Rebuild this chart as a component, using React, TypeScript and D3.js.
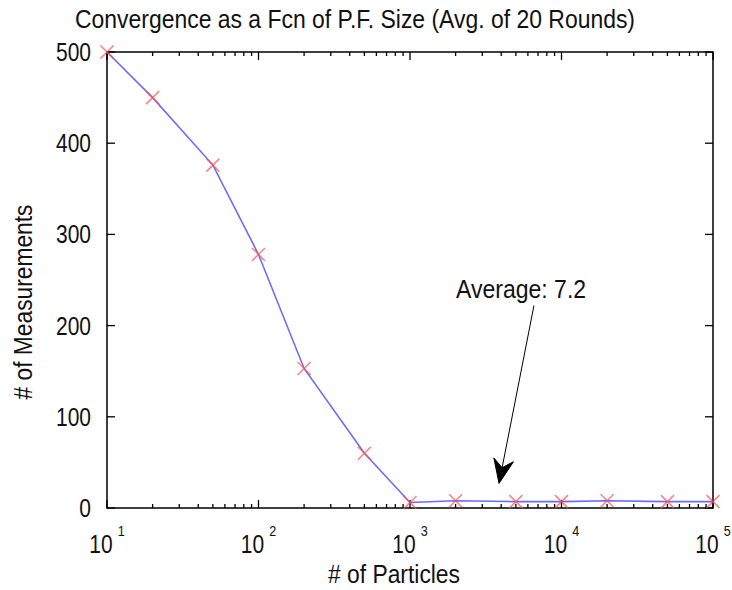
import React from "react";
import * as d3 from "d3";

const particles = [10, 20, 50, 100, 200, 500, 1000, 2000, 5000, 10000, 20000, 50000, 100000];
const measurements = [500, 450, 376, 278, 153, 60, 6, 8, 7, 7, 8, 7, 7];
const yTicks = [0, 100, 200, 300, 400, 500];
const xDecades = [1, 2, 3, 4, 5];
const titleText = "Convergence as a Fcn of P.F. Size (Avg. of 20 Rounds)";
const xLabelText = "# of Particles";
const yLabelText = "# of Measurements";
const annotText = "Average: 7.2";
// annotation in data coordinates: [x, y]
const annotLabelPos = [2015, 230];
const arrowFrom = [6580, 222];
const arrowTo = [3870, 27];

const W = 732;
const H = 590;
const M = { left: 107, right: 713, top: 52, bottom: 508 };
const FONT = "'Liberation Sans', Arial, Helvetica, sans-serif";
const SX = 0.84;

export default function App() {
  const x = d3.scaleLog().domain([10, 100000]).range([M.left, M.right]);
  const y = d3.scaleLinear().domain([0, 500]).range([M.bottom, M.top]);

  const line = d3
    .line<number>()
    .x((_, i) => x(particles[i]))
    .y((d) => y(d));

  const minorTicks: number[] = [];
  for (let e = 1; e < 5; e++) {
    for (let k = 2; k <= 9; k++) minorTicks.push(k * Math.pow(10, e));
  }

  // arrow geometry
  const sx = x(arrowFrom[0]);
  const sy = y(arrowFrom[1]);
  const tx = x(arrowTo[0]);
  const ty = y(arrowTo[1]);
  const dxA = tx - sx;
  const dyA = ty - sy;
  const len = Math.hypot(dxA, dyA);
  const ux = dxA / len;
  const uy = dyA / len;
  const nx = -uy;
  const ny = ux;
  const headLen = 24;
  const headW = 10;
  const bx = tx - headLen * ux;
  const by = ty - headLen * uy;
  const notchX = tx - 16 * ux;
  const notchY = ty - 16 * uy;
  const headPath = `M${tx},${ty} L${bx + headW * nx},${by + headW * ny} L${notchX},${notchY} L${bx - headW * nx},${by - headW * ny} Z`;

  const ms = 6.5;

  return (
    <svg
      width={W}
      height={H}
      style={{ position: "absolute", left: 0, top: 0, background: "#fff" }}
      fontFamily={FONT}
    >
      <rect x={0} y={0} width={W} height={H} fill="#fff" />
      {/* title */}
      <text
        x={355}
        y={28}
        textAnchor="middle"
        fontSize={26}
        fill="#111"
        textLength={560}
        lengthAdjust="spacingAndGlyphs"
      >
        {titleText}
      </text>

      {/* frame */}
      <rect
        x={M.left}
        y={M.top}
        width={M.right - M.left}
        height={M.bottom - M.top}
        fill="none"
        stroke="#000"
        strokeWidth={1.5}
      />

      {/* y ticks */}
      {yTicks.map((t) => (
        <g key={"y" + t}>
          <line x1={M.left} x2={M.left + 8} y1={y(t)} y2={y(t)} stroke="#000" strokeWidth={1.3} />
          <line x1={M.right} x2={M.right - 8} y1={y(t)} y2={y(t)} stroke="#000" strokeWidth={1.3} />
          <text
            transform={`translate(91,${y(t)}) scale(${SX},1)`}
            dy="0.36em"
            textAnchor="end"
            fontSize={25}
            fill="#111"
          >
            {t}
          </text>
        </g>
      ))}

      {/* x major ticks */}
      {xDecades.map((e) => {
        const v = Math.pow(10, e);
        return (
          <g key={"x" + e}>
            <line x1={x(v)} x2={x(v)} y1={M.bottom} y2={M.bottom - 8} stroke="#000" strokeWidth={1.3} />
            <line x1={x(v)} x2={x(v)} y1={M.top} y2={M.top + 8} stroke="#000" strokeWidth={1.3} />
            <text
              transform={`translate(${x(v)},553) scale(${SX},1)`}
              textAnchor="middle"
              fontSize={25}
              fill="#111"
            >
              <tspan>10</tspan>
              <tspan dx={6} dy={-17} fontSize={15}>
                {e}
              </tspan>
            </text>
          </g>
        );
      })}
      {/* x minor ticks */}
      {minorTicks.map((v) => (
        <g key={"m" + v}>
          <line x1={x(v)} x2={x(v)} y1={M.bottom} y2={M.bottom - 4} stroke="#000" strokeWidth={1.3} />
          <line x1={x(v)} x2={x(v)} y1={M.top} y2={M.top + 4} stroke="#000" strokeWidth={1.3} />
        </g>
      ))}

      {/* axis labels */}
      <text
        x={394}
        y={583}
        textAnchor="middle"
        fontSize={26}
        fill="#111"
        textLength={132}
        lengthAdjust="spacingAndGlyphs"
      >
        {xLabelText}
      </text>
      <text
        transform={`translate(32,302) rotate(-90)`}
        textAnchor="middle"
        fontSize={26}
        fill="#111"
        textLength={195}
        lengthAdjust="spacingAndGlyphs"
      >
        {yLabelText}
      </text>

      {/* data line */}
      <path d={line(measurements) || ""} fill="none" stroke="#3a3aff" strokeOpacity={0.75} strokeWidth={1.6} />

      {/* markers */}
      {measurements.map((d, i) => {
        const cx = x(particles[i]);
        const cy = y(d);
        return (
          <path
            key={"p" + i}
            d={`M${cx - ms},${cy - ms} L${cx + ms},${cy + ms} M${cx - ms},${cy + ms} L${cx + ms},${cy - ms}`}
            stroke="#ff5050"
            strokeOpacity={0.7}
            strokeWidth={1.6}
            fill="none"
          />
        );
      })}

      {/* annotation */}
      <text
        x={x(annotLabelPos[0])}
        y={y(annotLabelPos[1])}
        fontSize={26}
        fill="#111"
        textLength={130}
        lengthAdjust="spacingAndGlyphs"
      >
        {annotText}
      </text>
      <line x1={sx} y1={sy} x2={notchX} y2={notchY} stroke="#000" strokeWidth={1} />
      <path d={headPath} fill="#000" stroke="#000" strokeWidth={1} strokeLinejoin="miter" />
    </svg>
  );
}
